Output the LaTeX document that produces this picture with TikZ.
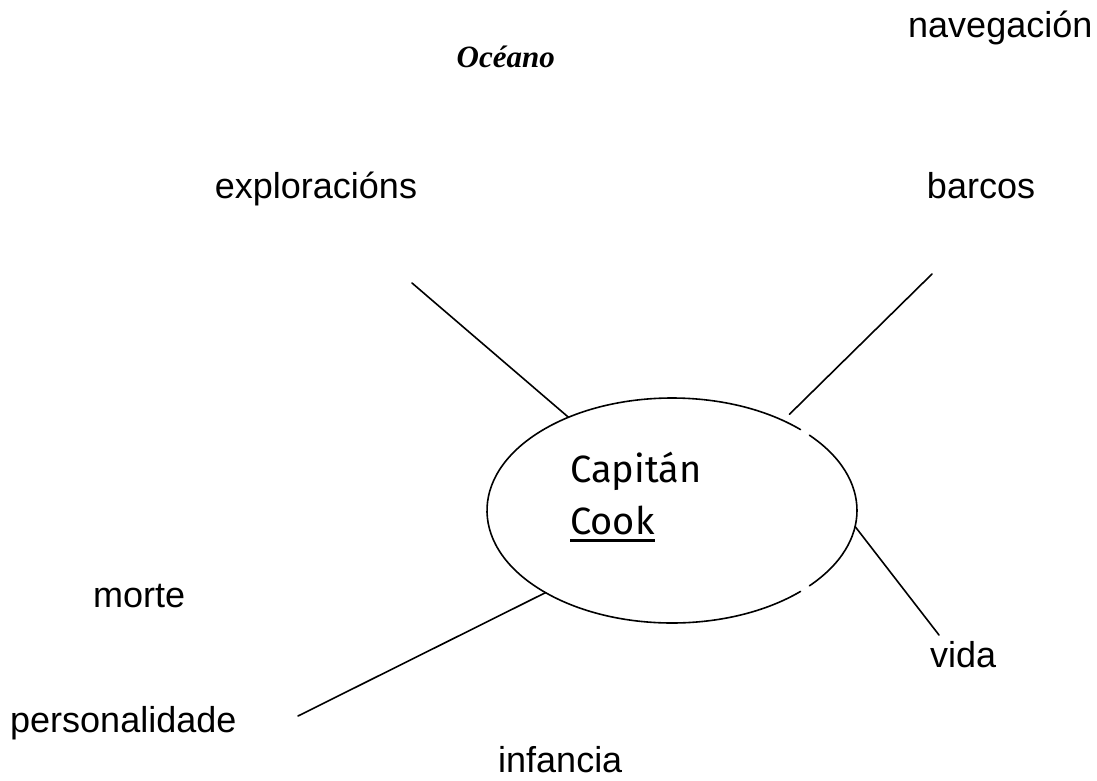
\documentclass[tikz,border=0pt]{standalone}
\usepackage{fontspec}
\setmainfont{Liberation Sans}
\newfontfamily\titulofont{Liberation Serif}
\newfontfamily\cookfont{Fira Sans}
\usetikzlibrary{shapes.geometric}
\newcommand\riscar[1]{\vtop{\hbox{#1}\kern5pt\hrule height 3pt}}

\begin{document}
\begin{tikzpicture}[x=1pt,y=1pt,
    tema/.style={font=\fontsize{36}{42}\selectfont, inner sep=0pt},
    raia/.style={line width=1.6pt, line cap=round}]
        \fill[white] (0,0) rectangle (1097,-780);
        \useasboundingbox (0,0) rectangle (1097,-780);

        % Central ellipse
        \node[ellipse, minimum width=370pt, minimum height=225pt, inner sep=0pt, outer sep=0pt] (cook) at (672,-510.5) {};
        \draw[raia] ([shift={(46:185 and 112.5)}]cook.center) arc[start angle=46, end angle=314, x radius=185, y radius=112.5];
        \draw[raia] ([shift={(-42:185 and 112.5)}]cook.center) arc[start angle=-42, end angle=42, x radius=185, y radius=112.5];
        \node[anchor=base west, align=left, inner sep=0pt, font=\cookfont\fontsize{38}{52}\selectfont] (nome) at (570,-534) {Capitán\\\riscar{Cook}};

        % Topics
        \node[tema, anchor=base west] (navegacion) at (908,-37) {navegación};
        \node[anchor=base east, inner sep=0pt, font=\titulofont\bfseries\itshape\fontsize{31}{36}\selectfont] (oceano) at (555,-67) {Océano};
        \node[tema, anchor=base] (exploracions) at (316,-198) {exploracións};
        \node[tema, anchor=base] (barcos) at (981,-198) {barcos};
        \node[tema, anchor=base west] (morte) at (93,-607) {morte};
        \node[tema, anchor=base west] (vida) at (930,-667) {vida};
        \node[tema, anchor=base west] (personalidade) at (10,-732) {personalidade};
        \node[tema, anchor=base west] (infancia) at (498,-772) {infancia};

        % Spokes
        \coordinate (c1) at (412,-283);
        \coordinate (c2) at (932,-274);
        \coordinate (c3) at (939,-635);
        \coordinate (c4) at (298,-716);
        \draw[raia] (c1) -- (cook.138);
        \draw[raia, shorten >=9pt] (c2) -- (cook.39);
        \draw[raia] (c3) -- (cook.355);
        \draw[raia] (c4) -- (cook.213);
\end{tikzpicture}
\end{document}
